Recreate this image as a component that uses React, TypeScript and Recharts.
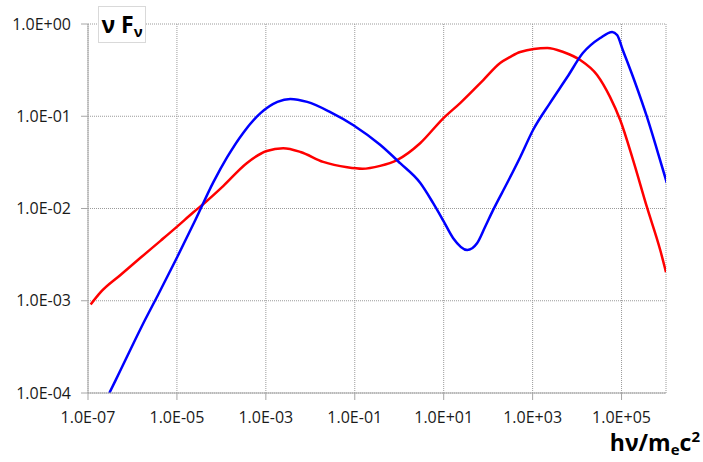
import { LineChart, Line, XAxis, YAxis, CartesianGrid } from 'recharts';

// log10(h nu / m_e c^2) and nu F_nu
const redLogNu = [-6.94, -6.72, -6.27, -5.82, -5.37, -4.99, -4.63, -4.36, -3.96, -3.43, -2.98, -2.61, -2.22, -1.71, -1.17, -0.83, -0.43, -0.05, 0.47, 0.99, 1.37, 1.89, 2.27, 2.49, 2.72, 3.33, 3.69, 4.07, 4.45, 4.74, 4.97, 5.26, 5.57, 5.87, 6.0];
const redFlux = [9.1e-4, 1.23e-3, 1.9e-3, 2.92e-3, 4.46e-3, 6.4e-3, 9.1e-3, 1.17e-2, 1.75e-2, 3.1e-2, 4.2e-2, 4.5e-2, 4.1e-2, 3.2e-2, 2.8e-2, 2.7e-2, 2.9e-2, 3.35e-2, 5.1e-2, 9.5e-2, 0.139, 0.247, 0.378, 0.438, 0.497, 0.55, 0.497, 0.407, 0.28, 0.162, 0.091, 0.0335, 0.0104, 3.55e-3, 2.04e-3];

const blueLogNu = [-6.52, -6.38, -5.71, -5.44, -4.99, -4.58, -4.18, -3.87, -3.51, -3.12, -2.74, -2.45, -2.07, -1.55, -1.03, -0.43, 0.02, 0.47, 0.76, 0.99, 1.21, 1.53, 1.75, 1.93, 2.11, 2.43, 2.72, 3.01, 3.39, 3.78, 4.13, 4.52, 4.79, 4.9, 5.03, 5.3, 5.57, 5.8, 6.02];
const blueFlux = [1.0e-4, 1.37e-4, 6.3e-4, 1.12e-3, 3.0e-3, 7.6e-3, 1.93e-2, 3.6e-2, 6.6e-2, 0.108, 0.143, 0.154, 0.143, 0.111, 0.08, 0.049, 0.031, 0.019, 0.0115, 7.4e-3, 4.8e-3, 3.55e-3, 4.2e-3, 6.3e-3, 9.6e-3, 1.9e-2, 3.6e-2, 7.1e-2, 0.139, 0.266, 0.484, 0.705, 0.82, 0.76, 0.52, 0.235, 0.0988, 0.043, 0.0189];

const xTicks = [1e-7, 1e-5, 1e-3, 1e-1, 1e1, 1e3, 1e5];
const yTicks = [1e-4, 1e-3, 1e-2, 1e-1, 1];

const redData = redLogNu.map((lx, i) => ({ x: Math.pow(10, lx), y: redFlux[i] }));
const blueData = blueLogNu.map((lx, i) => ({ x: Math.pow(10, lx), y: blueFlux[i] }));

const fmtExp = (v: number) => {
  const e = Math.round(Math.log10(v));
  return `1.0E${e < 0 ? '-' : '+'}${String(Math.abs(e)).padStart(2, '0')}`;
};

const font = '"Open Sans", sans-serif';

export default function App() {
  return (
    <div style={{ position: 'absolute', left: 0, top: 0, width: 703, height: 462, background: '#fff', fontFamily: font }}>
      <LineChart width={703} height={462} margin={{ top: 24, right: 37, left: 0, bottom: 39 }}>
        <CartesianGrid stroke="#9a9a9a" strokeDasharray="1 1" />
        <XAxis
          dataKey="x"
          type="number"
          scale="log"
          domain={[1e-7, 1e6]}
          ticks={xTicks}
          tickFormatter={fmtExp}
          allowDataOverflow
          height={30}
          stroke="#a6a6a6"
          tickSize={7}
          tickMargin={12}
          tick={{ fill: '#1a1a1a', fontSize: 16, fontFamily: font }}
        />
        <YAxis
          dataKey="y"
          type="number"
          scale="log"
          domain={[1e-4, 1]}
          ticks={yTicks}
          tickFormatter={fmtExp}
          allowDataOverflow
          width={88}
          stroke="#a6a6a6"
          tickSize={7}
          tickMargin={10}
          tick={{ fill: '#1a1a1a', fontSize: 16, fontFamily: font }}
        />
        <Line data={redData} dataKey="y" type="monotone" stroke="#ff0000" strokeWidth={2.5} dot={false} isAnimationActive={false} />
        <Line data={blueData} dataKey="y" type="monotone" stroke="#0000ff" strokeWidth={2.5} dot={false} isAnimationActive={false} />
      </LineChart>
      <div
        style={{
          position: 'absolute',
          left: 98,
          top: 6,
          width: 48,
          height: 37,
          border: '1px solid #d9d9d9',
          background: '#fff',
          fontWeight: 'bold',
          fontSize: 23,
          lineHeight: '34px',
          textAlign: 'center',
          color: '#000',
          boxSizing: 'border-box',
        }}
      >
        ν F<sub style={{ fontSize: 15, verticalAlign: '-4px' }}>ν</sub>
      </div>
      <div
        style={{
          position: 'absolute',
          right: 3,
          top: 426,
          fontWeight: 'bold',
          fontSize: 23,
          color: '#000',
        }}
      >
        hν/m<sub style={{ fontSize: 15, verticalAlign: '-4px' }}>e</sub>c<sup style={{ fontSize: 15, verticalAlign: '9px' }}>2</sup>
      </div>
    </div>
  );
}
